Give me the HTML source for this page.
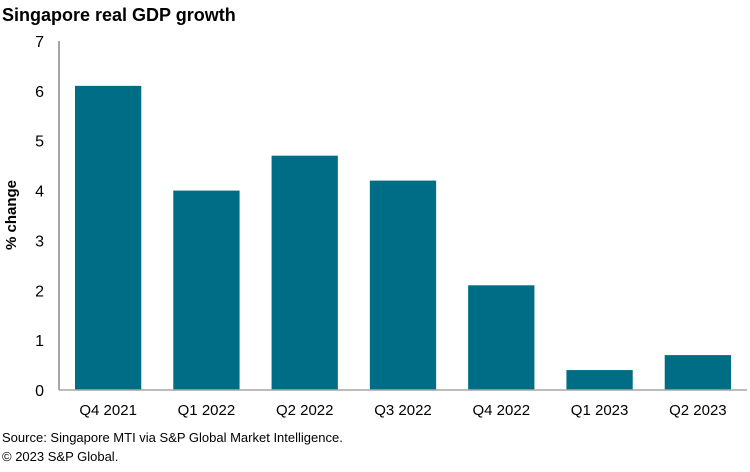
<!DOCTYPE html>
<html><head><meta charset="utf-8"><style>
body{margin:0;background:#fff;font-family:"Liberation Sans",Arial,sans-serif}
</style></head><body>
<svg width="750" height="467" xmlns="http://www.w3.org/2000/svg">
<text x="2" y="21" font-size="18" font-weight="bold" fill="#000">Singapore real GDP growth</text>
<g id="yaxis"></g><g id="bars"></g><g id="xaxis"></g>
<text transform="translate(16,215) rotate(-90)" text-anchor="middle" font-size="15" font-weight="bold">% change</text>
<text x="2" y="442" font-size="13">Source: Singapore MTI via S&amp;P Global Market Intelligence.</text>
<text x="2" y="461" font-size="13">© 2023 S&amp;P Global.</text>
</svg>
<script>
const categories=["Q4 2021","Q1 2022","Q2 2022","Q3 2022","Q4 2022","Q1 2023","Q2 2023"];
const values=[6.1,4.0,4.7,4.2,2.1,0.4,0.7];
const yTicks=[0,1,2,3,4,5,6,7];
const NS="http://www.w3.org/2000/svg";
const x0=59,x1=747,y0=390,y1=41,yMax=7;
const y=v=>y0-(v/yMax)*(y0-y1);
const band=(x1-x0)/categories.length;
const bx=i=>x0+i*band;
function mk(t,a,p){const e=document.createElementNS(NS,t);for(const k in a)e.setAttribute(k,a[k]);p.appendChild(e);return e;}
const ya=document.getElementById('yaxis'),bg=document.getElementById('bars'),xa=document.getElementById('xaxis');
yTicks.forEach(t=>{const e=mk('text',{x:44,y:y(t)+6,'text-anchor':'end','font-size':16},ya);e.textContent=t;

});
const al=mk('line',{x1:x0,y1:y1,x2:x0,y2:y0,stroke:'#a6a6a6','stroke-width':2},ya);


values.forEach((v,i)=>{const r=mk('rect',{x:bx(i)+16,y:y(v),width:band-32,height:y0-y(v),fill:'#006d86'},bg);

});
const xl=mk('line',{x1:x0,y1:y0,x2:x1,y2:y0,stroke:'#a6a6a6','stroke-width':1.5},xa);


categories.forEach((c,i)=>{const e=mk('text',{x:bx(i)+band/2,y:415,'text-anchor':'middle','font-size':15},xa);e.textContent=c;

});
</script>
</body></html>
